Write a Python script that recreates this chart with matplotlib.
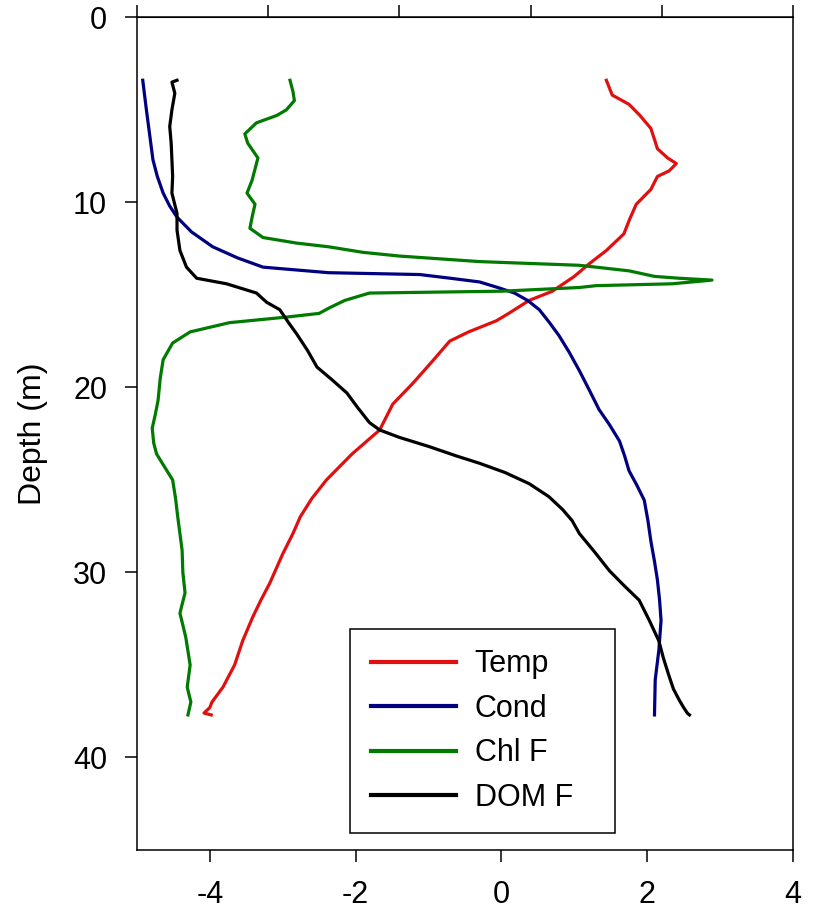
import numpy as np
import matplotlib
matplotlib.use('Agg')
from matplotlib import pyplot as plt

plt.rcParams['font.family'] = ['Liberation Sans', 'DejaVu Sans']
plt.rcParams['axes.unicode_minus'] = False

# Temperature profile (scaled)
temp_depth = [3.4, 4.2, 4.7, 5.3, 6.0, 6.6, 7.1, 7.6, 7.9, 8.3, 8.6, 9.3, 10.1, 10.9,
              11.7, 12.6, 13.3, 14.0, 14.8, 15.3, 16.0, 16.4, 17.0, 17.5, 18.6, 19.8,
              20.9, 22.3, 23.6, 25.0, 26.0, 27.0, 27.9, 29.0, 30.6, 31.5, 32.4, 33.7,
              35.0, 36.2, 37.0, 37.3, 37.6, 37.7]
temp = [1.44, 1.52, 1.75, 1.90, 2.05, 2.10, 2.14, 2.28, 2.40, 2.30, 2.14, 2.05, 1.85,
        1.76, 1.68, 1.44, 1.21, 1.00, 0.70, 0.38, 0.10, -0.07, -0.45, -0.71, -0.95,
        -1.22, -1.49, -1.67, -2.05, -2.40, -2.60, -2.76, -2.86, -3.00, -3.18, -3.30,
        -3.41, -3.55, -3.66, -3.82, -3.97, -4.00, -4.08, -3.98]

# Conductivity profile (scaled)
cond_depth = [3.4, 5.0, 6.5, 7.7, 8.6, 9.5, 10.2, 10.8, 11.6, 12.4, 13.0, 13.5, 13.8,
              13.9, 14.1, 14.3, 14.6, 14.9, 15.3, 15.8, 16.5, 17.2, 18.1, 19.1, 20.1,
              21.2, 22.0, 22.9, 23.7, 24.5, 25.3, 26.1, 27.2, 28.3, 29.4, 30.4, 31.5,
              32.6, 34.2, 35.8, 37.7]
cond = [-4.92, -4.87, -4.82, -4.78, -4.72, -4.64, -4.55, -4.45, -4.25, -3.96, -3.62,
        -3.27, -2.37, -1.12, -0.70, -0.30, -0.05, 0.18, 0.36, 0.52, 0.66, 0.79, 0.93,
        1.07, 1.20, 1.34, 1.48, 1.62, 1.69, 1.75, 1.86, 1.96, 2.01, 2.05, 2.10, 2.14,
        2.17, 2.19, 2.16, 2.11, 2.10]

# Chlorophyll fluorescence (scaled)
chl_depth = [3.4, 4.0, 4.5, 5.0, 5.3, 5.7, 6.3, 6.8, 7.6, 8.2, 8.8, 9.5, 10.1, 10.8,
             11.4, 11.9, 12.2, 12.4, 12.7, 12.9, 13.2, 13.4, 13.7, 14.0, 14.1, 14.2,
             14.4, 14.5, 14.6, 14.8, 14.9, 15.3, 15.7, 16.0, 16.2, 16.5, 17.0, 17.6,
             18.5, 19.5, 20.7, 21.5, 22.2, 23.0, 23.6, 24.3, 25.0, 26.0, 27.0, 28.8,
             30.0, 31.1, 32.2, 33.5, 35.0, 36.2, 37.0, 37.7]
chl = [-2.90, -2.86, -2.84, -2.95, -3.08, -3.36, -3.52, -3.48, -3.34, -3.38, -3.42,
       -3.49, -3.38, -3.42, -3.45, -3.27, -2.81, -2.37, -1.90, -1.40, -0.30, 1.07,
       1.75, 2.10, 2.44, 2.89, 2.34, 1.30, 1.07, 0.0, -1.81, -2.15, -2.36, -2.50,
       -2.95, -3.73, -4.27, -4.51, -4.64, -4.68, -4.71, -4.75, -4.79, -4.77, -4.73,
       -4.62, -4.51, -4.47, -4.44, -4.38, -4.37, -4.34, -4.41, -4.33, -4.27, -4.31,
       -4.26, -4.30]

# DOM fluorescence (scaled)
dom_depth = [3.4, 3.5, 4.1, 5.0, 5.9, 6.8, 7.7, 8.6, 9.5, 10.6, 11.5, 12.6, 13.5, 14.1,
             14.4, 14.9, 15.4, 15.8, 16.5, 17.1, 18.0, 18.9, 19.6, 20.3, 21.1, 21.9,
             22.3, 22.7, 23.2, 23.7, 24.1, 24.6, 25.2, 25.9, 26.6, 27.2, 27.9, 28.9,
             29.9, 30.7, 31.5, 32.6, 33.7, 34.6, 35.6, 36.3, 36.9, 37.3, 37.6, 37.7]
dom = [-4.45, -4.52, -4.48, -4.52, -4.55, -4.53, -4.52, -4.51, -4.52, -4.45, -4.45,
       -4.41, -4.32, -4.18, -3.77, -3.36, -3.22, -3.04, -2.92, -2.81, -2.66, -2.53,
       -2.32, -2.12, -1.97, -1.81, -1.67, -1.40, -0.99, -0.62, -0.30, 0.05, 0.38,
       0.65, 0.84, 0.97, 1.07, 1.28, 1.48, 1.68, 1.89, 2.03, 2.16, 2.22, 2.30, 2.36,
       2.44, 2.50, 2.55, 2.58]

labels = ['Temp', 'Cond', 'Chl F', 'DOM F']
colors = ['#e01010', '#000080', '#007a00', '#000000']

fig = plt.figure(figsize=(8.15, 9.13), dpi=100)
ax = fig.add_axes([0.168, 0.069, 0.805, 0.912])

series = [(temp, temp_depth), (cond, cond_depth), (chl, chl_depth), (dom, dom_depth)]
for (x, d), lab, c in zip(series, labels, colors):
    ax.plot(x, d, color=c, lw=2.3, label=lab)

ax.set_xlim(-5, 4)
ax.set_ylim(45, 0)
ax.set_xticks([-4, -2, 0, 2, 4])
ax.set_yticks([0, 10, 20, 30, 40])
ax.tick_params(direction='out', length=8.5, width=1.1, pad=13, labelsize=22)
for s in ax.spines.values():
    s.set_linewidth(1.1)
ax.set_ylabel('Depth (m)', fontsize=23, labelpad=18)

# top axis has its own ticks, no labels
top = ax.secondary_xaxis('top', functions=(lambda v: (v + 5) / 9 * 5,
                                           lambda t: t * 9 / 5 - 5))
top.set_xticks([0, 1, 2, 3, 4, 5])
top.tick_params(direction='out', length=8.5, width=1.1, labeltop=False)

leg = ax.legend(loc='lower left', bbox_to_anchor=(0.325, 0.020, 0.404, 0.248),
                mode='expand', borderaxespad=0, fontsize=22, handlelength=2.8,
                handletextpad=0.6, labelspacing=0.47, borderpad=0.68,
                fancybox=False, framealpha=1, edgecolor='black')
leg.get_frame().set_linewidth(1.1)
for h in leg.get_lines():
    h.set_linewidth(3)

fig.savefig('out.png', dpi=100)
